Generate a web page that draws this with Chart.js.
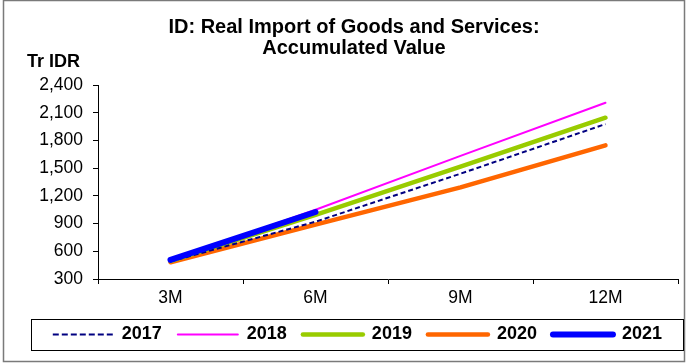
<!DOCTYPE html>
<html>
<head>
<meta charset="utf-8">
<script src="https://cdn.jsdelivr.net/npm/chart.js@4.4.1/dist/chart.umd.min.js"></script>
<style>
  html, body { margin: 0; padding: 0; background: #fff; }
  #wrap { position: relative; width: 686px; height: 364px; }
</style>
</head>
<body>
<div id="wrap"><canvas id="import-chart" width="686" height="364"></canvas></div>
<script>
// Accumulated real imports, trillion IDR
const periods = ['3M', '6M', '9M', '12M'];
const years = ['2017', '2018', '2019', '2020', '2021'];
const values2017 = [490, 920, 1440, 1977];
const values2018 = [500, 1050, 1633, 2208];
const values2019 = [495, 995, 1517, 2046];
const values2020 = [481, 888, 1292, 1747];
const values2021 = [506, 1025, null, null];
const yTicks = [300, 600, 900, 1200, 1500, 1800, 2100, 2400];

const titleLines = ['ID: Real Import of Goods and Services:', 'Accumulated Value'];
const unitLabel = 'Tr IDR';

function makeSeries(label, data, color, width, dash, order) {
  return {
    label: label,
    data: data,
    borderColor: color,
    backgroundColor: color,
    borderWidth: width,
    borderDash: dash,
    borderCapStyle: dash.length ? 'butt' : 'round',
    borderJoinStyle: 'round',
    pointRadius: 0,
    pointHoverRadius: 0,
    tension: 0,
    fill: false,
    order: order
  };
}

// Legend entries keep the dataset's dash and cap style
function legendLabels(chart) {
  const items = Chart.defaults.plugins.legend.labels.generateLabels(chart);
  return items.map(function(item) {
    const ds = chart.data.datasets[item.datasetIndex];
    item.lineDash = ds.borderDash.length ? [6, 3] : [];
    item.lineCap = ds.borderCapStyle;
    item.lineWidth = ds.borderWidth;
    item.strokeStyle = ds.borderColor;
    return item;
  });
}

// Frame, titles and legend box
const decorPlugin = {
  id: 'decor',
  beforeDraw: function(chart) {
    const ctx = chart.ctx;
    ctx.save();
    ctx.fillStyle = '#ffffff';
    ctx.fillRect(0, 0, chart.width, chart.height);
    ctx.restore();
  },
  afterDraw: function(chart) {
    const ctx = chart.ctx;
    ctx.save();
    // outer frame
    ctx.strokeStyle = '#7a7a7a';
    ctx.lineWidth = 1.5;
    ctx.strokeRect(3.5, 0.5, 681, 361);

    // title
    ctx.fillStyle = '#000';
    ctx.textAlign = 'center';
    ctx.textBaseline = 'middle';
    ctx.font = 'bold 20px "Liberation Sans", Arial, sans-serif';
    ctx.fillText(titleLines[0], 354, 27);
    ctx.fillText(titleLines[1], 354, 48);

    // unit label
    ctx.textAlign = 'left';
    ctx.font = 'bold 18px "Liberation Sans", Arial, sans-serif';
    ctx.fillText(unitLabel, 27, 62);

    // box round the legend
    const legend = chart.legend;
    if (legend && legend.legendHitBoxes && legend.legendHitBoxes.length) {
      const boxes = legend.legendHitBoxes;
      const first = boxes[0];
      const last = boxes[boxes.length - 1];
      const left = Math.round(first.left - 22) + 0.5;
      const right = Math.round(last.left + last.width + 21) + 0.5;
      const top = Math.round(first.top + first.height / 2 - 15.5) + 0.5;
      ctx.strokeStyle = '#000';
      ctx.lineWidth = 1;
      ctx.strokeRect(left, top, right - left, 31);
    }
    ctx.restore();
  }
};

const canvas = document.getElementById('import-chart');
const ctx = canvas.getContext('2d');

new Chart(ctx, {
  type: 'line',
  data: {
    labels: periods,
    datasets: [
      makeSeries(years[0], values2017, '#000080', 2, [5, 3], 1),
      makeSeries(years[1], values2018, '#ff00ff', 2, [], 2),
      makeSeries(years[2], values2019, '#99cc00', 4.5, [], 3),
      makeSeries(years[3], values2020, '#ff6600', 4.5, [], 4),
      makeSeries(years[4], values2021, '#0000ff', 6, [], 0)
    ]
  },
  options: {
    responsive: false,
    animation: false,
    devicePixelRatio: 1,
    layout: {
      padding: { left: 0, right: 8, top: 85, bottom: 10.5 }
    },
    plugins: {
      title: { display: false },
      tooltip: { enabled: false },
      legend: {
        display: true,
        position: 'bottom',
        align: 'end',
        labels: {
          usePointStyle: true,
          pointStyle: 'line',
          pointStyleWidth: 60,
          padding: 16,
          color: '#000',
          font: { family: '"Liberation Sans", Arial, sans-serif', size: 18, weight: 'bold' },
          generateLabels: legendLabels,
          sort: function(a, b) { return a.datasetIndex - b.datasetIndex; }
        }
      }
    },
    scales: {
      x: {
        type: 'category',
        offset: true,
        afterFit: function(scale) { scale.height = 30.5; },
        grid: {
          offset: true,
          drawOnChartArea: false,
          drawTicks: true,
          tickLength: 5,
          color: '#000'
        },
        border: { display: true, color: '#000', width: 1 },
        ticks: {
          padding: 4,
          color: '#000',
          font: { family: '"Liberation Sans", Arial, sans-serif', size: 17.5 }
        }
      },
      y: {
        min: yTicks[0],
        max: yTicks[yTicks.length - 1],
        afterFit: function(scale) { scale.width = 98; },
        afterBuildTicks: function(scale) {
          scale.ticks = yTicks.map(function(v) { return { value: v }; });
        },
        grid: {
          drawOnChartArea: false,
          drawTicks: true,
          tickLength: 5,
          color: '#000'
        },
        border: { display: true, color: '#000', width: 1 },
        ticks: {
          autoSkip: false,
          padding: 10,
          color: '#000',
          font: { family: '"Liberation Sans", Arial, sans-serif', size: 17.5 },
          callback: function(value) {
            return value.toLocaleString('en-US');
          }
        }
      }
    }
  },
  plugins: [decorPlugin]
});
</script>
</body>
</html>
